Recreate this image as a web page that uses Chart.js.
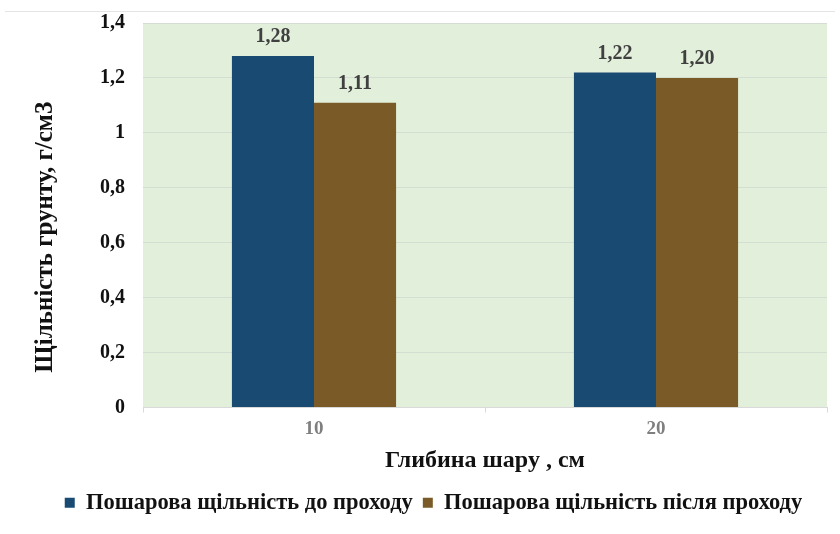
<!DOCTYPE html>
<html>
<head>
<meta charset="utf-8">
<script src="https://cdn.jsdelivr.net/npm/chart.js@4"></script>
<style>
  html, body { margin: 0; padding: 0; background: #ffffff; }
  #wrap { width: 840px; height: 534px; }
</style>
</head>
<body>
<div id="wrap"><canvas id="myBarChart" width="840" height="534"></canvas></div>
<script>
// data
const depths = ['10', '20'];
const densityBefore = [1.28, 1.22];
const densityAfter = [1.11, 1.20];
const labelsBefore = ['1,28', '1,22'];
const labelsAfter = ['1,11', '1,20'];
const yTickLabels = ['0', '0,2', '0,4', '0,6', '0,8', '1', '1,2', '1,4'];

const serif = '"Liberation Serif", "Times New Roman", serif';

// green plot background + thin frame line at the top
const backgroundPlugin = {
  id: 'plotBackground',
  afterLayout(chart) {
    // legend sits a little right of centre in the original
    chart.legend.left += 20;
    chart.legend.right += 20;
  },
  beforeDraw(chart) {
    const { ctx, chartArea } = chart;
    ctx.save();
    ctx.fillStyle = '#E2EFDA';
    ctx.fillRect(chartArea.left, chartArea.top, chartArea.right - chartArea.left, chartArea.bottom - chartArea.top);
    ctx.strokeStyle = '#e4e4e4';
    ctx.lineWidth = 1;
    ctx.beginPath();
    ctx.moveTo(5, 11.5);
    ctx.lineTo(chart.width - 5, 11.5);
    ctx.stroke();
    ctx.restore();
  }
};

// value labels above bars
const valueLabelPlugin = {
  id: 'valueLabels',
  afterDatasetsDraw(chart) {
    const { ctx } = chart;
    const texts = [labelsBefore, labelsAfter];
    ctx.save();
    ctx.font = 'bold 20px ' + serif;
    ctx.fillStyle = '#404040';
    ctx.textAlign = 'center';
    ctx.textBaseline = 'middle';
    chart.data.datasets.forEach((ds, i) => {
      const meta = chart.getDatasetMeta(i);
      meta.data.forEach((bar, j) => {
        ctx.fillText(texts[i][j], bar.x, bar.y - 19);
      });
    });
    ctx.restore();
  }
};

const ctx = document.getElementById('myBarChart').getContext('2d');
const myBarChart = new Chart(ctx, {
  type: 'bar',
  data: {
    labels: depths,
    datasets: [
      {
        label: 'Пошарова щільність до проходу',
        data: densityBefore,
        backgroundColor: '#194A72',
        borderWidth: 0,
        categoryPercentage: 0.48,
        barPercentage: 1.0
      },
      {
        label: 'Пошарова щільність після проходу',
        data: densityAfter,
        backgroundColor: '#7A5B27',
        borderWidth: 0,
        categoryPercentage: 0.48,
        barPercentage: 1.0
      }
    ]
  },
  options: {
    responsive: false,
    animation: false,
    layout: {
      padding: { top: 23, right: 13, bottom: 10, left: 0 }
    },
    plugins: {
      tooltip: { enabled: false },
      legend: {
        display: true,
        position: 'bottom',
        labels: {
          font: { family: serif, size: 22.5, weight: 'bold' },
          color: '#111111',
          boxWidth: 10,
          boxHeight: 10,
          padding: 10
        }
      }
    },
    scales: {
      x: {
        afterFit(scale) { scale.height = 74; },
        grid: {
          offset: true,
          drawOnChartArea: false,
          drawTicks: true,
          tickLength: 5,
          color: '#d9d9d9'
        },
        border: { display: true, color: '#d9d9d9', width: 1 },
        ticks: {
          color: '#7f7f7f',
          padding: 5,
          font: { family: serif, size: 19, weight: 'bold' }
        },
        title: {
          display: true,
          text: 'Глибина шару , см',
          color: '#111111',
          font: { family: serif, size: 24, weight: 'bold' },
          padding: { top: 0, bottom: 6 }
        }
      },
      y: {
        min: 0,
        max: 1.4,
        afterFit(scale) {
          scale.width = 143;
          scale.paddingTop = 0;
          scale.paddingBottom = 0;
        },
        grid: {
          drawTicks: false,
          color: '#d4ddd2'
        },
        border: { display: false },
        ticks: {
          stepSize: 0.2,
          padding: 18,
          color: '#111111',
          font: { family: serif, size: 20, weight: 'bold' },
          callback: (value, index) => yTickLabels[index]
        },
        title: {
          display: true,
          text: 'Щільність грунту, г/см3       ',
          color: '#111111',
          font: { family: serif, size: 25, weight: 'bold' },
          padding: { top: 31, bottom: 0 }
        }
      }
    }
  },
  plugins: [backgroundPlugin, valueLabelPlugin]
});
</script>
</body>
</html>
